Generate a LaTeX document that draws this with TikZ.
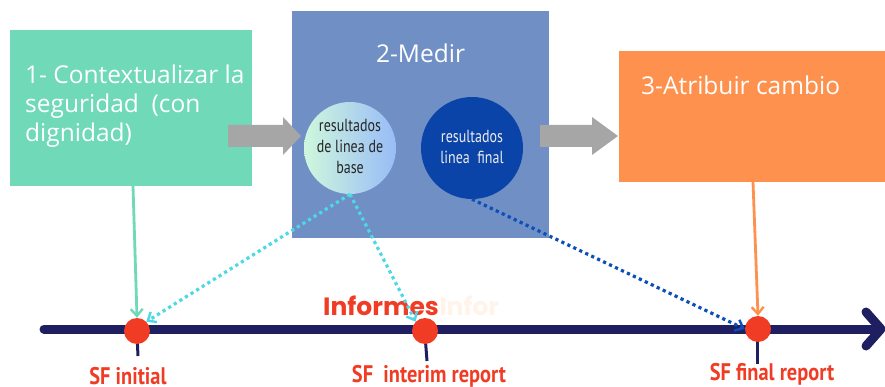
\documentclass[tikz,border=0pt]{standalone}
\usepackage{fontspec}
\setmainfont{Open Sans}
\newfontfamily\cond[FakeStretch=0.8]{PT Sans}
\newfontfamily\condl[FakeStretch=0.85]{PT Sans}
\newfontfamily\pop{Poppins}
\usetikzlibrary{arrows.meta,shadings}
\definecolor{cgreen}{HTML}{6FD9B8}
\definecolor{cblue}{HTML}{6F8FC5}
\definecolor{corange}{HTML}{FD914D}
\definecolor{cdark}{HTML}{0B44A8}
\definecolor{cnavy}{HTML}{1F1E60}
\definecolor{cred}{HTML}{F03C24}
\definecolor{cgray}{HTML}{A6A6A6}
\definecolor{ccyan}{HTML}{4DD8E6}
\definecolor{cdot}{HTML}{0B4FB8}
\definecolor{cghost}{HTML}{FFF3EA}
\definecolor{cldgreen}{HTML}{CFF7DD}
\definecolor{cldblue}{HTML}{98BCF7}
\tikzset{
  boxtext/.style={text=white,font=\fontsize{24.5}{29}\selectfont,align=left,inner sep=0pt},
  circtext/.style={font=\cond\fontsize{17.5}{21}\selectfont,align=center,inner sep=0pt},
  reddot/.style={circle,fill=cred,minimum size=26pt,inner sep=0pt},
  sflabel/.style={text=cred,font=\condl\bfseries\fontsize{24}{26}\selectfont,inner sep=0pt,anchor=base},
  tick/.style={cnavy,line width=3pt},
  grayarrow/.style={fill=cgray,draw=none},
  dotcon/.style={line width=3.2pt,dash pattern=on 3.2pt off 3.4pt,-{Straight Barb[length=7pt,width=12pt,line width=2.4pt]}},
  solidcon/.style={line width=2.8pt,-{Straight Barb[length=7pt,width=12pt,line width=2.4pt]}}
}
\begin{document}
\begin{tikzpicture}[x=1pt,y=-1pt]
\useasboundingbox (0,0) rectangle (885,387);
% boxes
\fill[cgreen] (10,30) rectangle (252,186);
\coordinate (gbot) at (133,186);
\fill[cblue] (292,11) rectangle (549,238);
\fill[corange] (619,51) rectangle (885,182);
\coordinate (obot) at (753,182);
\node[boxtext,anchor=north west] (t1) at (25,64.5) {1- Contextualizar la\\seguridad\ \ (con\\dignidad)};
\node[boxtext,anchor=base] (t2) at (420.5,63) {2-Medir};
\node[boxtext,anchor=base west] (t3) at (641,95) {3-Atribuir cambio};
% gray arrows
\fill[grayarrow] (228,125) -- (283,125) -- (283,117) -- (301,136) -- (283,155) -- (283,147) -- (228,147) -- cycle;
\fill[grayarrow] (540,125) -- (592,125) -- (592,117) -- (618,136) -- (592,155) -- (592,147) -- (540,147) -- cycle;
% circles
\shade[left color=cldgreen,right color=cldblue] (350,148) circle (46);
\node[circle,minimum size=92pt,inner sep=0pt] (c1) at (350,148) {};
\node[circtext,text=black!85] (c1t) at (350,146) {resultados\\de linea de\\base};
\node[circle,fill=cdark,minimum size=102pt,inner sep=0pt] (c2) at (472,148) {};
\node[circtext,text=white!85!gray] (c2t) at (472,147) {resultados\\linea\ \ final};
% timeline
\coordinate (tl0) at (44,329);
\coordinate (tl1) at (881,329);
\draw[cnavy,line width=9pt,line cap=round] (tl0) -- (875,329);
\draw[cnavy,line width=9pt,line cap=round,line join=round] (866,312) -- (tl1) -- (866,346);
% ticks
\draw[tick] (137,335) -- (138,356);
\draw[tick] (425,335) -- (427,361);
\draw[tick] (757,335) -- (757,364);
% red dots
\node[reddot] (d1) at (137,331) {};
\node[reddot] (d2) at (425,331) {};
\node[reddot] (d3) at (758,329) {};
% labels
\node[sflabel] (l1) at (128,384) {SF initial};
\node[sflabel] (l2) at (429,382) {SF\ \ interim report};
\node[sflabel] (l3) at (772,380) {SF final report};
\node[text=cred,font=\pop\bfseries\fontsize{25}{28}\selectfont,inner sep=0pt,anchor=base west] (inf) at (323,315) {Informes};
\node[text=cghost,font=\pop\bfseries\fontsize{25}{28}\selectfont,inner sep=0pt,anchor=base west] (ghost) at (inf.base east) {Infor};
% connectors
\draw[solidcon,cgreen] (gbot) -- (d1.north);
\draw[solidcon,corange] (obot) -- (d3.north);
\draw[dotcon,ccyan] (c1.south) -- (d1.north east);
\draw[dotcon,ccyan] (c1.south) -- (d2.north west);
\draw[dotcon,cdot] (c2.south) -- (d3.west);
\end{tikzpicture}
\end{document}
